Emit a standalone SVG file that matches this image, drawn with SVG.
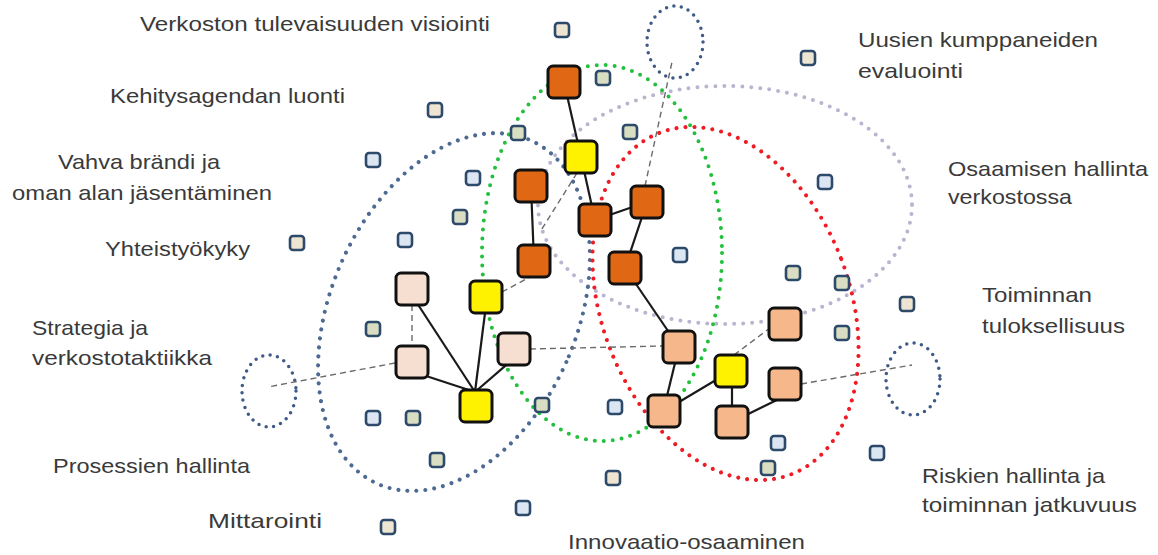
<svg xmlns="http://www.w3.org/2000/svg" width="1158" height="555" viewBox="0 0 1158 555">
<style>
.lbl{font-family:"Liberation Sans",Arial,sans-serif;font-size:21px;fill:#3a3a3a}
.dot{fill:none;stroke-linecap:round;stroke-dasharray:0 9;stroke-width:4}
.sdot{fill:none;stroke:#3E5A86;stroke-linecap:round;stroke-dasharray:0 7.5;stroke-width:3.5}
.solid{stroke:#1a1a1a;stroke-width:2.2;fill:none}
.dash{stroke:#6a6a6a;stroke-width:1.4;stroke-dasharray:6 4;fill:none}
.big{stroke:#111;stroke-width:3;rx:5}
.org{fill:#E06814}
.yel{fill:#FFF200}
.pch{fill:#F6DFD0}
.sal{fill:#F6B88A}
.sm{stroke:#2E4A6B;stroke-width:2.6;rx:3}
.lb{fill:#DCE6F3}
.bg{fill:#EEE4D2}
.sg{fill:#D9DEC2}
</style>
<rect width="1158" height="555" fill="#ffffff"/>

<g id="groups">
<ellipse class="dot" stroke="#B9B4CF" cx="725" cy="205" rx="187" ry="119"/>
<ellipse class="dot" stroke="#4C6A92" cx="454" cy="312" rx="123" ry="188" transform="rotate(24 454 312)"/>
<ellipse class="dot" stroke="#22C03C" cx="602" cy="253" rx="120" ry="188"/>
<ellipse class="dot" stroke="#EE1C25" cx="725.5" cy="303.5" rx="124" ry="183" transform="rotate(-21 725.5 303.5)"/>
<ellipse class="sdot" cx="269" cy="391" rx="27" ry="36"/>
<ellipse class="sdot" cx="675" cy="42" rx="28" ry="36"/>
<ellipse class="sdot" cx="913" cy="379" rx="27" ry="36"/>
</g>

<g id="connectors">
<line class="dash" x1="412" y1="305" x2="412" y2="346"/>
<line class="dash" x1="395" y1="363" x2="268" y2="387"/>
<line class="dash" x1="530" y1="349" x2="663" y2="346"/>
<line class="dash" x1="502" y1="292" x2="530" y2="277"/>
<line class="dash" x1="577" y1="173" x2="540" y2="232"/>
<line class="dash" x1="645" y1="186" x2="672" y2="62"/>
<line class="dash" x1="734" y1="355" x2="770" y2="328"/>
<line class="dash" x1="801" y1="384" x2="912" y2="365"/>
<line class="solid" x1="564" y1="82" x2="581" y2="157"/>
<line class="solid" x1="581" y1="157" x2="595" y2="220"/>
<line class="solid" x1="531" y1="186" x2="534" y2="261"/>
<line class="solid" x1="595" y1="220" x2="647" y2="202"/>
<line class="solid" x1="647" y1="202" x2="625" y2="268"/>
<line class="solid" x1="625" y1="268" x2="679" y2="347"/>
<line class="solid" x1="415" y1="300" x2="475" y2="392"/>
<line class="solid" x1="486" y1="305" x2="475" y2="392"/>
<line class="solid" x1="512" y1="360" x2="475" y2="392"/>
<line class="solid" x1="420" y1="374" x2="475" y2="392"/>
<line class="solid" x1="677" y1="355" x2="666" y2="400"/>
<line class="solid" x1="664" y1="411" x2="731" y2="371"/>
<line class="solid" x1="732" y1="380" x2="732" y2="415"/>
<line class="solid" x1="732" y1="422" x2="785" y2="396"/>
</g>

<g id="small-nodes">
<rect id="s1" class="sm bg" x="555" y="23" width="14" height="14"/>
<rect id="s2" class="sm sg" x="596" y="71" width="14" height="14"/>
<rect id="s3" class="sm bg" x="428" y="103" width="14" height="14"/>
<rect id="s4" class="sm sg" x="511" y="126" width="14" height="14"/>
<rect id="s5" class="sm sg" x="623" y="125" width="14" height="14"/>
<rect id="s6" class="sm bg" x="801" y="51" width="14" height="14"/>
<rect id="s7" class="sm lb" x="366" y="153" width="14" height="14"/>
<rect id="s8" class="sm lb" x="466" y="171" width="14" height="14"/>
<rect id="s9" class="sm lb" x="818" y="175" width="14" height="14"/>
<rect id="s10" class="sm sg" x="453" y="210" width="14" height="14"/>
<rect id="s11" class="sm bg" x="290" y="236" width="14" height="14"/>
<rect id="s12" class="sm lb" x="398" y="233" width="14" height="14"/>
<rect id="s13" class="sm lb" x="673" y="248" width="14" height="14"/>
<rect id="s14" class="sm sg" x="786" y="266" width="14" height="14"/>
<rect id="s15" class="sm sg" x="835" y="276" width="14" height="14"/>
<rect id="s16" class="sm bg" x="900" y="297" width="14" height="14"/>
<rect id="s17" class="sm sg" x="366" y="322" width="14" height="14"/>
<rect id="s18" class="sm sg" x="835" y="326" width="14" height="14"/>
<rect id="s19" class="sm lb" x="366" y="411" width="14" height="14"/>
<rect id="s20" class="sm sg" x="406" y="411" width="14" height="14"/>
<rect id="s21" class="sm sg" x="535" y="398" width="14" height="14"/>
<rect id="s22" class="sm lb" x="608" y="400" width="14" height="14"/>
<rect id="s23" class="sm sg" x="430" y="453" width="14" height="14"/>
<rect id="s24" class="sm lb" x="771" y="436" width="14" height="14"/>
<rect id="s25" class="sm lb" x="870" y="446" width="14" height="14"/>
<rect id="s26" class="sm sg" x="761" y="461" width="14" height="14"/>
<rect id="s27" class="sm bg" x="606" y="471" width="14" height="14"/>
<rect id="s28" class="sm lb" x="516" y="501" width="14" height="14"/>
<rect id="s29" class="sm bg" x="381" y="520" width="14" height="14"/>
</g>

<g id="nodes">
<rect id="n1" class="big org" x="548" y="66" width="32" height="32"/>
<rect id="n2" class="big org" x="515" y="170" width="32" height="32"/>
<rect id="n3" class="big org" x="579" y="204" width="32" height="32"/>
<rect id="n4" class="big org" x="631" y="186" width="32" height="32"/>
<rect id="n5" class="big org" x="518" y="245" width="32" height="32"/>
<rect id="n6" class="big org" x="609" y="252" width="32" height="32"/>
<rect id="y1" class="big yel" x="565" y="141" width="32" height="32"/>
<rect id="y2" class="big yel" x="470" y="281" width="32" height="32"/>
<rect id="y3" class="big yel" x="460" y="390" width="32" height="32"/>
<rect id="y4" class="big yel" x="715" y="355" width="32" height="32"/>
<rect id="p1" class="big pch" x="396" y="273" width="32" height="32"/>
<rect id="p2" class="big pch" x="396" y="346" width="32" height="32"/>
<rect id="p3" class="big pch" x="498" y="333" width="32" height="32"/>
<rect id="o1" class="big sal" x="663" y="331" width="32" height="32"/>
<rect id="o2" class="big sal" x="648" y="395" width="32" height="32"/>
<rect id="o3" class="big sal" x="769" y="308" width="32" height="32"/>
<rect id="o4" class="big sal" x="769" y="368" width="32" height="32"/>
<rect id="o5" class="big sal" x="716" y="406" width="32" height="32"/>
</g>

<g id="labels">
<text class="lbl" x="140" y="31" textLength="350" lengthAdjust="spacingAndGlyphs">Verkoston tulevaisuuden visiointi</text>
<text class="lbl" x="110" y="103" textLength="235" lengthAdjust="spacingAndGlyphs">Kehitysagendan luonti</text>
<text class="lbl" x="58" y="169" textLength="162" lengthAdjust="spacingAndGlyphs">Vahva brändi ja</text>
<text class="lbl" x="12" y="200" textLength="260" lengthAdjust="spacingAndGlyphs">oman alan jäsentäminen</text>
<text class="lbl" x="105" y="256" textLength="145" lengthAdjust="spacingAndGlyphs">Yhteistyökyky</text>
<text class="lbl" x="32" y="335" textLength="116" lengthAdjust="spacingAndGlyphs">Strategia ja</text>
<text class="lbl" x="32" y="365" textLength="180" lengthAdjust="spacingAndGlyphs">verkostotaktiikka</text>
<text class="lbl" x="53" y="473" textLength="197" lengthAdjust="spacingAndGlyphs">Prosessien hallinta</text>
<text class="lbl" x="208" y="528" textLength="114" lengthAdjust="spacingAndGlyphs">Mittarointi</text>
<text class="lbl" x="568" y="549" textLength="237" lengthAdjust="spacingAndGlyphs">Innovaatio-osaaminen</text>
<text class="lbl" x="858" y="47" textLength="240" lengthAdjust="spacingAndGlyphs">Uusien kumppaneiden</text>
<text class="lbl" x="858" y="78" textLength="105" lengthAdjust="spacingAndGlyphs">evaluointi</text>
<text class="lbl" x="948" y="176" textLength="200" lengthAdjust="spacingAndGlyphs">Osaamisen hallinta</text>
<text class="lbl" x="948" y="204" textLength="124" lengthAdjust="spacingAndGlyphs">verkostossa</text>
<text class="lbl" x="982" y="302" textLength="110" lengthAdjust="spacingAndGlyphs">Toiminnan</text>
<text class="lbl" x="982" y="333" textLength="143" lengthAdjust="spacingAndGlyphs">tuloksellisuus</text>
<text class="lbl" x="922" y="483" textLength="183" lengthAdjust="spacingAndGlyphs">Riskien hallinta ja</text>
<text class="lbl" x="922" y="512" textLength="215" lengthAdjust="spacingAndGlyphs">toiminnan jatkuvuus</text>
</g>
</svg>
